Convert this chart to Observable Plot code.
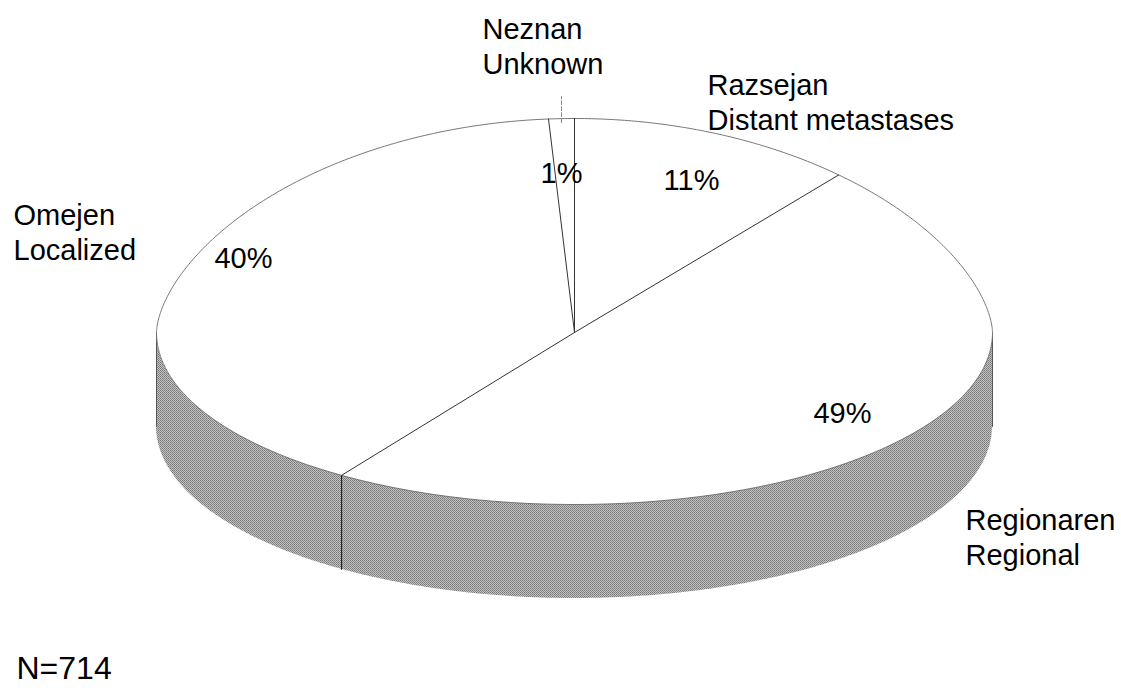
<!DOCTYPE html>
<html>
<head>
<meta charset="utf-8">
<script src="https://cdn.jsdelivr.net/npm/d3@7"></script>
<script src="https://cdn.jsdelivr.net/npm/@observablehq/plot@0.6"></script>
<style>
  body { margin: 0; background: #fff; }
  #chart svg { display: block; }
</style>
</head>
<body>
<div id="chart"></div>
<script>
// ---------- DATA ----------
const namesSl = ["Razsejan", "Regionaren", "Omejen", "Neznan"];
const namesEn = ["Distant metastases", "Regional", "Localized", "Unknown"];
const percents = [11, 49, 40, 1];          // clockwise from 12 o'clock
const sampleSize = 714;

// ---------- LAYOUT (geometry of the 3-D disc, label anchors) ----------
const W = 1121, H = 688;
const CX = 574, CY = 332, RX = 418, RY_TOP = 214, RY_BOT = 172, TOP_EXP = 1.2, DEPTH = 94;
const FS = 29, LINE = 35, FS_N = 32;
const nameAnchor = [[707, 93], [965, 528], [13, 223], [482, 37]]; // first baseline
const pctAnchor  = [[691, 190], [842, 423], [243, 268], [561, 183]]; // baseline
const nAnchor = [16, 679];

// projection of an angle on the rim of the tilted disc
function proj(t, drop = 0) {
  const c = Math.cos(t), s = Math.sin(t);
  const y = s < 0 ? CY - RY_TOP * Math.pow(-s, TOP_EXP) : CY + RY_BOT * s;
  return [CX + RX * c, y + drop];
}
const total = d3.sum(percents);
const cum = d3.cumsum(percents);
const slices = percents.map((p, i) => {
  const a0 = -Math.PI / 2 + 2 * Math.PI * (cum[i] - p) / total;
  const a1 = -Math.PI / 2 + 2 * Math.PI * cum[i] / total;
  return { i, p, a0, a1 };
});

function arcPts(a0, a1, drop = 0) {
  const n = Math.max(2, Math.ceil(Math.abs(a1 - a0) / 0.008));
  return d3.range(n + 1).map(k => proj(a0 + (a1 - a0) * k / n, drop));
}

// top face polygons
const topPts = [];
slices.forEach(s => {
  const pts = [[CX, CY], ...arcPts(s.a0, s.a1), [CX, CY]];
  pts.forEach(([x, y]) => topPts.push({ slice: s.i, x, y }));
});
// rim outline
const rimPts = arcPts(-Math.PI / 2, 3 * Math.PI / 2).map(([x, y]) => ({ x, y }));
// radial boundaries
const radPts = [];
slices.forEach(s => {
  const [x, y] = proj(s.a0);
  radPts.push({ k: s.i, x: CX, y: CY }, { k: s.i, x, y });
});
// front wall (visible for angles 0..PI)
const sidePts = [];
slices.forEach(s => {
  const lo = Math.max(s.a0, 0), hi = Math.min(s.a1, Math.PI);
  if (hi > lo) {
    arcPts(lo, hi).forEach(([x, y]) => sidePts.push({ slice: s.i, x, y1: y, y2: y + DEPTH }));
  }
});
// wall seams where a slice boundary lies on the front
const seamPts = [];
slices.forEach(s => {
  if (s.a0 > 0 && s.a0 < Math.PI) {
    const [x, y] = proj(s.a0);
    seamPts.push({ k: s.i, x, y }, { k: s.i, x, y: y + DEPTH });
  }
});
// left / right silhouette edges
const silPts = [0, Math.PI].flatMap((t, k) => {
  const [x, y] = proj(t);
  return [{ k, x, y }, { k, x, y: y + DEPTH }];
});

// labels
const pctLabels = slices.map(s => ({ text: `${s.p}%`, x: pctAnchor[s.i][0], y: pctAnchor[s.i][1] - 0.35 * FS }));
const nameLabels = slices.map(s => ({
  text: namesSl[s.i] + "\n" + namesEn[s.i],
  x: nameAnchor[s.i][0],
  y: nameAnchor[s.i][1] + LINE / 2 - 0.35 * FS
}));
// leader for the tiny slice
const small = slices.find(s => s.p === d3.min(percents));
const [lx, ly] = proj((small.a0 + small.a1) / 2);
const leader = [{ x: lx, y: ly + 4 }, { x: lx, y: nameAnchor[small.i][1] + LINE + 24 }];

const svg = Plot.plot({
  width: W, height: H, margin: 0,
  style: { fontFamily: "'Liberation Sans', Arial, sans-serif", background: "white" },
  x: { domain: [0, W], range: [0, W], axis: null },
  y: { domain: [0, H], range: [0, H], axis: null },
  marks: [
    Plot.areaY(sidePts, { x: "x", y1: "y1", y2: "y2", z: "slice", fill: "url(#halftone)", stroke: "none", curve: "linear" }),
    Plot.line(seamPts, { x: "x", y: "y", z: "k", stroke: "#111", strokeWidth: 1 }),
    Plot.line(silPts, { x: "x", y: "y", z: "k", stroke: "#555", strokeWidth: 1 }),
    Plot.line(topPts, { x: "x", y: "y", z: "slice", fill: "white", stroke: "none", curve: "linear" }),
    Plot.line(rimPts, { x: "x", y: "y", stroke: "#666", strokeWidth: 0.9 }),
    Plot.line(radPts, { x: "x", y: "y", z: "k", stroke: "#333", strokeWidth: 1 }),
    Plot.line(leader, { x: "x", y: "y", stroke: "#888", strokeWidth: 1, strokeDasharray: "4,2" }),
    Plot.text(pctLabels, { x: "x", y: "y", text: "text", fontSize: FS, fill: "#000", textAnchor: "middle" }),
    Plot.text(nameLabels, { x: "x", y: "y", text: "text", fontSize: FS, fill: "#000", textAnchor: "start", lineHeight: LINE / FS }),
    Plot.text([`N=${sampleSize}`], { x: () => nAnchor[0], y: () => nAnchor[1] - 0.35 * FS_N, text: d => d, fontSize: FS_N, fill: "#000", textAnchor: "start" })
  ]
});

// halftone pattern for the wall (grey screen like the printed original)
const defs = d3.select(svg).insert("defs", ":first-child");
const pat = defs.append("pattern").attr("id", "halftone").attr("patternUnits", "userSpaceOnUse")
  .attr("width", 2).attr("height", 2);
pat.append("rect").attr("width", 2).attr("height", 2).attr("fill", "#c2c2c2");
pat.append("rect").attr("width", 1).attr("height", 1).attr("fill", "#777777");
pat.append("rect").attr("x", 1).attr("y", 1).attr("width", 1).attr("height", 1).attr("fill", "#898989");

document.getElementById("chart").appendChild(svg);
</script>
</body>
</html>
